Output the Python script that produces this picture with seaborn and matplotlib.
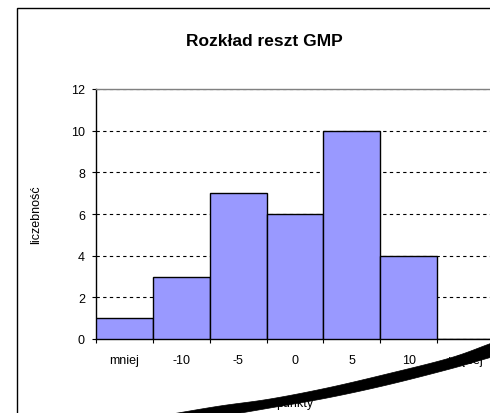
import matplotlib
matplotlib.use("Agg")
import matplotlib.pyplot as plt
import seaborn as sns
import pandas as pd
import numpy as np
from matplotlib.patches import Rectangle, Polygon

categories = ["mniej", "-10", "-5", "0", "5", "10", "więcej"]
counts = [1, 3, 7, 6, 10, 4, 0]
y_ticks = [0, 2, 4, 6, 8, 10, 12]

sns.set_style("white")
plt.rcParams['font.family'] = ['Liberation Sans', 'DejaVu Sans']
plt.rcParams['text.color'] = 'black'
plt.rcParams['axes.labelcolor'] = 'black'
plt.rcParams['xtick.color'] = 'black'
plt.rcParams['ytick.color'] = 'black'

W, H = 490, 414
fig = plt.figure(figsize=(W / 100, H / 100), dpi=100)

# chart area border
fig.patches.append(Rectangle((17 / W, -0.1), 1.2, (H - 9) / H + 0.1, transform=fig.transFigure,
                             facecolor="none", edgecolor="black", linewidth=1.0, zorder=-5))

ax = fig.add_axes([96 / W, (H - 340) / H, (494 - 96) / W, (340 - 90) / H])
ax.patch.set_alpha(0)
df = pd.DataFrame({"kat": categories, "n": counts})
sns.barplot(data=df, x="kat", y="n", ax=ax, color="#9999FF", saturation=1, width=1.0,
            edgecolor="black", linewidth=1.0, zorder=3)

ax.set_xlim(-0.5, len(categories) - 0.5)
ax.set_ylim(0, 12)
ax.set_yticks(y_ticks)
ax.set_yticklabels([str(v) for v in y_ticks], fontsize=9)
ax.yaxis.grid(True, linestyle=(0, (3, 3)), color="black", linewidth=0.8, zorder=0)
ax.set_axisbelow(True)

# x ticks at bin boundaries, labels centred
ax.set_xticks(np.arange(len(categories) + 1) - 0.5)
ax.set_xticklabels([])
ax.set_xticks(np.arange(len(categories)), minor=True)
ax.set_xticklabels(categories, minor=True, fontsize=9)
ax.tick_params(axis="x", which="major", length=3, width=0.8, direction="out", bottom=True)
ax.tick_params(axis="x", which="minor", length=0, pad=11)
ax.tick_params(axis="y", length=3, width=0.8, direction="out", left=True, pad=5)

for s in ["left", "bottom"]:
    ax.spines[s].set_color("black")
    ax.spines[s].set_linewidth(1.0)
for s in ["top", "right"]:
    ax.spines[s].set_color("#808080")
    ax.spines[s].set_linewidth(1.0)

ax.set_xlabel("punkty", fontsize=9, labelpad=22)
ax.set_ylabel("liczebność", fontsize=9, labelpad=21)
fig.text(264 / W, 1 - 41 / H, "Rozkład reszt GMP", ha="center", va="center",
         fontsize=12.5, fontweight="bold")


# black curved stroke at the bottom of the picture (smoothed outline)
def smooth(points, n=12):
    p = np.array(points, dtype=float)
    p = np.vstack([2 * p[0] - p[1], p, 2 * p[-1] - p[-2]])
    out = []
    for i in range(1, len(p) - 2):
        p0, p1, p2, p3 = p[i - 1], p[i], p[i + 1], p[i + 2]
        for t in np.linspace(0, 1, n, endpoint=False):
            t2, t3 = t * t, t * t * t
            out.append(0.5 * ((2 * p1) + (-p0 + p2) * t + (2 * p0 - 5 * p1 + 4 * p2 - p3) * t2
                              + (-p0 + 3 * p1 - 3 * p2 + p3) * t3))
    out.append(p[-2])
    return out


top = [(172, 415), (220, 407), (270, 400), (327, 389), (387, 375), (450, 359), (492, 344)]
bot = [(492, 358), (450, 370), (387, 386), (327, 399), (270, 409), (235, 415)]
outline = smooth(top) + smooth(bot)
verts = [(x / W, 1 - y / H) for x, y in outline]
fig.patches.append(Polygon(verts, closed=True, transform=fig.transFigure,
                           facecolor="black", edgecolor="black", linewidth=0.5, zorder=10))

fig.savefig("out.png", dpi=100)
